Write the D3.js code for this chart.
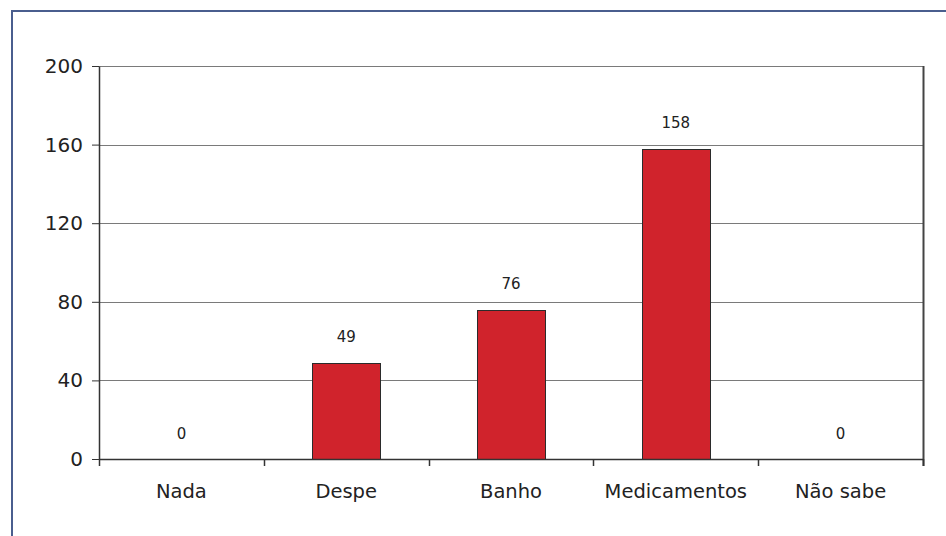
<!DOCTYPE html>
<html>
<head>
<meta charset="utf-8">
<script src="https://cdn.jsdelivr.net/npm/d3@7"></script>
<style>
  html, body { margin: 0; padding: 0; background: #fff; }
  svg { display: block; }
</style>
</head>
<body>
<script>
// Chart data
const categories = ["Nada", "Despe", "Banho", "Medicamentos", "Não sabe"];
const values = [0, 49, 76, 158, 0];
const yTicks = [0, 40, 80, 120, 160, 200];

const W = 946, H = 536;
const margin = { left: 99, right: 23, top: 66, bottom: 77 };
const innerW = W - margin.left - margin.right;
const innerH = H - margin.top - margin.bottom;
const font = "'DejaVu Sans', 'Noto Sans', sans-serif";

const svg = d3.select("body").append("svg")
  .attr("width", W).attr("height", H);

// Outer frame
svg.append("rect")
  .attr("x", 12).attr("y", 11)
  .attr("width", W + 20).attr("height", H + 20)
  .attr("fill", "none")
  .attr("stroke", "#4a5e8e")
  .attr("stroke-width", 2);

const g = svg.append("g").attr("transform", `translate(${margin.left},${margin.top})`);

const x = d3.scaleBand().domain(categories).range([0, innerW]).paddingInner(0.59).paddingOuter(0.295);
const xEdge = d3.scaleLinear().domain([0, categories.length]).range([0, innerW]);
const y = d3.scaleLinear().domain([0, 200]).range([innerH, 0]);

// Horizontal gridlines
g.append("g").selectAll("line")
  .data(yTicks.filter(d => d > 0))
  .join("line")
  .attr("x1", 0).attr("x2", innerW)
  .attr("y1", d => Math.round(y(d)) + 0.5).attr("y2", d => Math.round(y(d)) + 0.5)
  .attr("stroke", "#7a7a7a").attr("stroke-width", 1);

// Right frame line
g.append("line")
  .attr("x1", innerW + 0.5).attr("x2", innerW + 0.5)
  .attr("y1", y(200)).attr("y2", innerH + 7)
  .attr("stroke", "#444").attr("stroke-width", 2);

// Bars
g.append("g").selectAll("rect")
  .data(values.map((v, i) => ({ c: categories[i], v })).filter(d => d.v > 0))
  .join("rect")
  .attr("x", d => Math.round(x(d.c)) + 0.5)
  .attr("y", d => Math.round(y(d.v)) + 0.5)
  .attr("width", Math.round(x.bandwidth()))
  .attr("height", d => Math.round(innerH) - Math.round(y(d.v)))
  .attr("fill", "#d0232c")
  .attr("stroke", "#2b2b2b").attr("stroke-width", 1);

// Value labels
g.append("g").selectAll("text")
  .data(values.map((v, i) => ({ c: categories[i], v })))
  .join("text")
  .attr("x", d => x(d.c) + x.bandwidth() / 2)
  .attr("y", d => y(d.v) - 25)
  .attr("text-anchor", "middle")
  .attr("dominant-baseline", "middle")
  .attr("font-family", font).attr("font-size", 15)
  .attr("fill", "#222")
  .text(d => d.v);

// Y axis
const yAxis = g.append("g")
  .call(d3.axisLeft(y).tickValues(yTicks).tickSize(7).tickPadding(9).tickSizeOuter(0));
yAxis.select(".domain").attr("stroke", "#333").attr("stroke-width", 1.5);
yAxis.selectAll(".tick line").attr("stroke", "#333");
yAxis.selectAll(".tick text")
  .attr("font-family", font).attr("font-size", 20).attr("fill", "#222");

// X axis baseline with ticks at category boundaries
const xAxis = g.append("g").attr("transform", `translate(0,${innerH})`);
xAxis.append("line")
  .attr("x1", 0).attr("x2", innerW).attr("y1", 0.5).attr("y2", 0.5)
  .attr("stroke", "#333").attr("stroke-width", 1.5);
xAxis.selectAll("line.tk")
  .data(d3.range(categories.length + 1))
  .join("line").attr("class", "tk")
  .attr("x1", i => Math.round(xEdge(i)) + 0.5).attr("x2", i => Math.round(xEdge(i)) + 0.5)
  .attr("y1", 0).attr("y2", 7)
  .attr("stroke", "#333").attr("stroke-width", 1.5);
xAxis.selectAll("text")
  .data(categories)
  .join("text")
  .attr("x", d => x(d) + x.bandwidth() / 2)
  .attr("y", 33)
  .attr("text-anchor", "middle")
  .attr("dominant-baseline", "middle")
  .attr("font-family", font).attr("font-size", 19.5)
  .attr("fill", "#222")
  .text(d => d);
</script>
</body>
</html>
